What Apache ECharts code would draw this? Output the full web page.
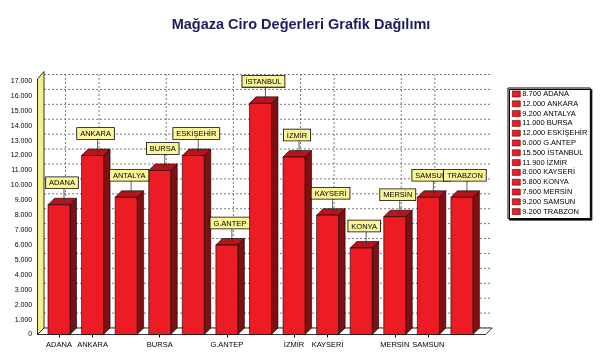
<!DOCTYPE html>
<html>
<head>
<meta charset="utf-8">
<script src="https://cdn.jsdelivr.net/npm/echarts@6/dist/echarts.min.js"></script>
<style>html,body{margin:0;padding:0;background:#fff}#c{width:600px;height:356px}</style>
</head>
<body>
<div id="c"></div>
<script>
// ---- data ----
const categories = ['ADANA','ANKARA','ANTALYA','BURSA','ESKİŞEHİR','G.ANTEP','İSTANBUL','İZMİR','KAYSERİ','KONYA','MERSİN','SAMSUN','TRABZON'];
const values = [8700, 12000, 9200, 11000, 12000, 6000, 15500, 11900, 8000, 5800, 7900, 9200, 9200];
const yTicks = [0,1000,2000,3000,4000,5000,6000,7000,8000,9000,10000,11000,12000,13000,14000,15000,16000,17000];
const xLabelShown = ['ADANA','ANKARA','BURSA','G.ANTEP','İZMİR','KAYSERİ','MERSİN','SAMSUN'];
const titleText = 'Mağaza Ciro Değerleri Grafik Dağılımı';

// ---- style constants ----
const DX = 6.5, DY = -6.5;
const PAD_L = 4.7, PAD_R = 7;
const BAR_RATIO = 0.655;
const FONT = 'Arial, "Liberation Sans", sans-serif';

const fmt = v => String(v).replace(/\B(?=(\d{3})+(?!\d))/g, '.');
const legendNames = categories.map((c, i) => fmt(values[i]) + ' ' + c);

function renderScene(params, api) {
  const yMax = yTicks[yTicks.length - 1];
  const first = api.coord([0, 0]);
  const last = api.coord([categories.length - 1, 0]);
  const band = api.size([1, 0])[0];
  const xL = first[0] - band / 2 - PAD_L;
  const xR = last[0] + band / 2 + PAD_R;
  const y0 = first[1];
  const yTop = api.coord([0, yMax])[1];
  const children = [];
  yTicks.forEach(t => {
    const y = api.coord([0, t])[1] + DY;
    children.push({type:'line', shape:{x1:xL + DX, y1:y, x2:xR + DX, y2:y},
      style:{stroke:'#7a7a7a', lineWidth:1, lineDash:[2,2]}});
  });
  categories.forEach((c, i) => {
    if (xLabelShown.indexOf(c) < 0) return;
    const x = api.coord([i, 0])[0] + DX;
    children.push({type:'line', shape:{x1:x, y1:y0 + DY, x2:x, y2:yTop + DY},
      style:{stroke:'#7a7a7a', lineWidth:1, lineDash:[2,2]}});
  });
  children.push({type:'polygon', shape:{points:[[xL, y0],[xL + DX, y0 + DY],[xL + DX, yTop + DY - 3],[xL, yTop - 2]]},
    style:{fill:'#f6ee86', stroke:'#000', lineWidth:0.8}});
  children.push({type:'polygon', shape:{points:[[xL, y0],[xR, y0],[xR + DX, y0 + DY],[xL + DX, y0 + DY]]},
    style:{fill:'#fff', stroke:'#000', lineWidth:0.8}});
  return {type:'group', children};
}

function renderBar(params, api) {
  const i = api.value(0), v = api.value(1);
  const top = api.coord([i, v]);
  const base = api.coord([i, 0]);
  const bw = api.size([1, 0])[0] * BAR_RATIO;
  const x0 = top[0] - bw / 2, x1 = top[0] + bw / 2;
  const yT = top[1], yB = base[1];
  const boxBottom = yT + DY - 10;
  return {type:'group', children:[
    {type:'polygon', shape:{points:[[x1, yB],[x1 + DX, yB + DY],[x1 + DX, yT + DY],[x1, yT]]},
      style:{fill:'#7e1012', stroke:'#000', lineWidth:0.6}},
    {type:'polygon', shape:{points:[[x0, yT],[x1, yT],[x1 + DX, yT + DY],[x0 + DX, yT + DY]]},
      style:{fill:'#b5161c', stroke:'#000', lineWidth:0.6}},
    {type:'rect', shape:{x:x0, y:yT, width:bw, height:yB - yT},
      style:{fill:'#ed1c24', stroke:'#000', lineWidth:0.6}},
    {type:'line', shape:{x1:top[0] + 5, y1:boxBottom, x2:top[0] + 5, y2:yT + DY / 2},
      style:{stroke:'#333', lineWidth:0.8}},
    {type:'text', z2:10, style:{text:categories[i], x:top[0] + 3, y:boxBottom, align:'center', verticalAlign:'bottom',
      fontSize:7.5, fontFamily:FONT, fill:'#000', backgroundColor:'#faf49a', borderColor:'#000', borderWidth:0.8,
      padding:[2,3,1,3]}}
  ]};
}

const series = [{
  type:'custom', name:'_scene', silent:true, z:1, renderItem:renderScene, data:[[0,0]], encode:{x:0, y:1}
}];
categories.forEach((c, i) => {
  series.push({type:'custom', name:legendNames[i], z:2, renderItem:renderBar,
    itemStyle:{color:'#ed1c24'}, data:[[i, values[i]]], encode:{x:0, y:1}});
});

const chart = echarts.init(document.getElementById('c'), null, {renderer:'canvas'});
chart.setOption({
  animation:false,
  backgroundColor:'#fff',
  title:{text:titleText, left:296, top:12, textAlign:'center',
    textStyle:{fontSize:14.5, fontWeight:'bold', color:'#1c1c5e', fontFamily:FONT}},
  legend:{data:legendNames, orient:'vertical', left:508, top:88, padding:[2,3,3,4],
    itemWidth:8, itemHeight:6, itemGap:1.8, icon:'rect',
    itemStyle:{borderColor:'#5a0000', borderWidth:0.6},
    textStyle:{fontSize:7.5, fontFamily:FONT, color:'#000', lineHeight:8, padding:[0,0,0,-3]},
    backgroundColor:'#fff', borderColor:'#000', borderWidth:1,
    shadowColor:'#000', shadowBlur:0, shadowOffsetX:1.5, shadowOffsetY:1.5},
  grid:{left:42.2, right:121.3, top:81, bottom:21.5},
  xAxis:{type:'category', data:categories, boundaryGap:true,
    axisLine:{show:false},
    axisTick:{show:true, alignWithLabel:true, length:3, lineStyle:{color:'#000'},
      interval:(idx, val) => xLabelShown.indexOf(val) >= 0},
    axisLabel:{fontSize:7.5, fontFamily:FONT, color:'#000', margin:6,
      interval:(idx, val) => xLabelShown.indexOf(val) >= 0},
    splitLine:{show:false}},
  yAxis:{type:'value', min:0, max:yTicks[yTicks.length - 1], interval:1000,
    axisLine:{show:false}, axisTick:{show:false}, splitLine:{show:false},
    axisLabel:{fontSize:7, fontFamily:FONT, color:'#000', margin:10, formatter:fmt}},
  series
});
</script>
</body>
</html>
